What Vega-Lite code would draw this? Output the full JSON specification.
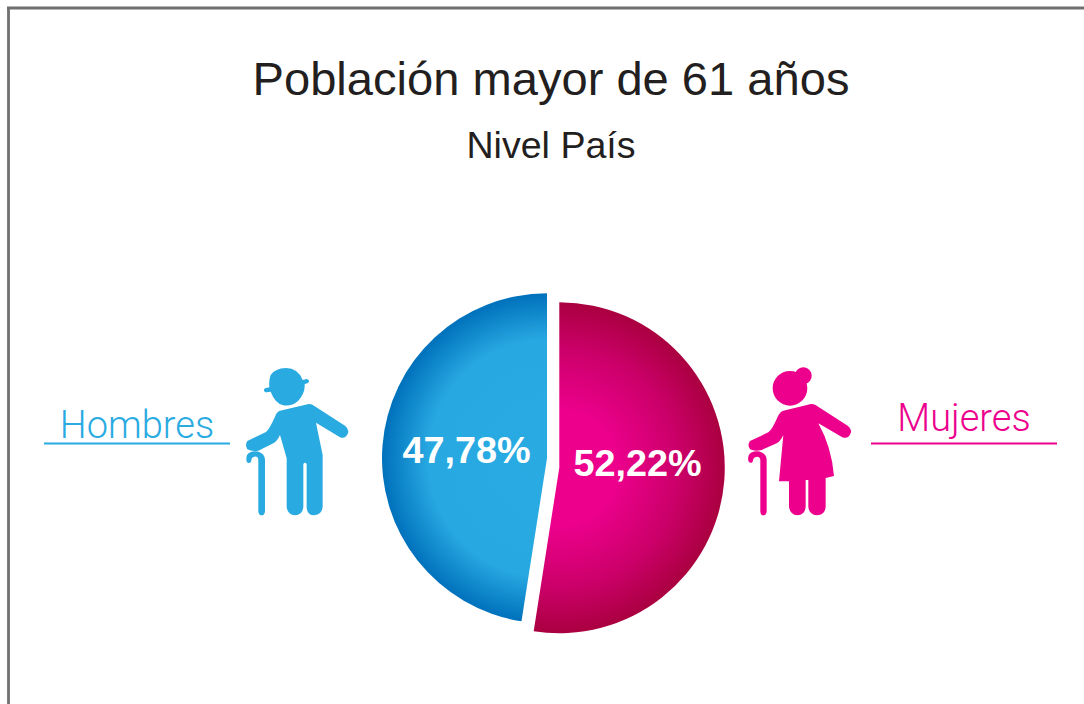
{
"$schema":"https://vega.github.io/schema/vega-lite/v6.json",
"width":1084,"height":704,"padding":0,"autosize":{"type":"none"},"background":"white",
"config":{"view":{"stroke":null},"font":"Liberation Sans"},
"title":{"text":"Población mayor de 61 años","subtitle":"Nivel País","anchor":"middle","frame":"group","orient":"top","dx":9,"offset":-167,"font":"Liberation Sans","fontSize":47.1,"fontWeight":"normal","color":"#231F20","subtitleFont":"Liberation Sans","subtitleFontSize":37.6,"subtitleColor":"#231F20","subtitlePadding":23},
"data":{"values":[{"sexo":"Hombres","valor":47.78,"etiqueta":"47,78%"},{"sexo":"Mujeres","valor":52.22,"etiqueta":"52,22%"}]},
"layer":[
{"data":{"values":[{"borde":"superior"}]},"mark":{"type":"rule","stroke":"#707070","strokeWidth":2.8},
 "encoding":{"x":{"datum":7,"type":"quantitative","axis":null,"scale":{"domain":[0,1084],"nice":false,"zero":false}},"x2":{"datum":1084},"y":{"datum":8,"type":"quantitative","axis":null,"scale":{"domain":[704,0],"nice":false,"zero":false}}}},
{"data":{"values":[{"borde":"izquierdo"}]},"mark":{"type":"rule","stroke":"#707070","strokeWidth":2.8},
 "encoding":{"x":{"datum":8.5,"type":"quantitative","axis":null,"scale":{"domain":[0,1084],"nice":false,"zero":false}},"y":{"datum":8,"type":"quantitative","axis":null,"scale":{"domain":[704,0],"nice":false,"zero":false}},"y2":{"datum":704}}},
{"transform":[{"stack":"valor","sort":[{"field":"sexo","order":"descending"}],"as":["v0","v1"]},{"filter":"datum.sexo==='Hombres'"}],
 "mark":{"type":"arc","outerRadius":165,"fill":{"gradient":"radial","x1":0.7515,"y1":0.504,"r1":0,"x2":0.7515,"y2":0.504,"r2":0.503,"stops":[{"offset":0,"color":"#29ABE2"},{"offset":0.72,"color":"#27A8E1"},{"offset":1,"color":"#0071BC"}]}},
 "encoding":{"theta":{"field":"v0","type":"quantitative","scale":{"domain":[0,52.22,100],"range":[0,3.297,6.2832]}},"theta2":{"field":"v1"},
 "x":{"datum":547,"type":"quantitative","axis":null,"scale":{"domain":[0,1084],"nice":false,"zero":false}},"y":{"datum":458.3,"type":"quantitative","axis":null,"scale":{"domain":[704,0],"nice":false,"zero":false}}}},
{"transform":[{"stack":"valor","sort":[{"field":"sexo","order":"descending"}],"as":["v0","v1"]},{"filter":"datum.sexo==='Mujeres'"}],
 "mark":{"type":"arc","outerRadius":165.5,"fill":{"gradient":"radial","x1":0.289,"y1":0.501,"r1":0,"x2":0.289,"y2":0.501,"r2":0.5,"stops":[{"offset":0,"color":"#EC008C"},{"offset":0.35,"color":"#EC008C"},{"offset":0.72,"color":"#CB0069"},{"offset":1,"color":"#AA0040"}]}},
 "encoding":{"theta":{"field":"v0","type":"quantitative","scale":{"domain":[0,52.22,100],"range":[0,3.297,6.2832]}},"theta2":{"field":"v1"},
 "x":{"datum":559.3,"type":"quantitative","axis":null,"scale":{"domain":[0,1084],"nice":false,"zero":false}},"y":{"datum":467.7,"type":"quantitative","axis":null,"scale":{"domain":[704,0],"nice":false,"zero":false}}}},
{"transform":[{"filter":"datum.sexo==='Hombres'"}],"mark":{"type":"text","color":"white","fontSize":37.8,"fontWeight":"bold","align":"center","baseline":"alphabetic"},
 "encoding":{"text":{"field":"etiqueta"},"x":{"datum":466.5,"type":"quantitative","axis":null,"scale":{"domain":[0,1084],"nice":false,"zero":false}},"y":{"datum":463,"type":"quantitative","axis":null,"scale":{"domain":[704,0],"nice":false,"zero":false}}}},
{"transform":[{"filter":"datum.sexo==='Mujeres'"}],"mark":{"type":"text","color":"white","fontSize":37.8,"fontWeight":"bold","align":"center","baseline":"alphabetic"},
 "encoding":{"text":{"field":"etiqueta"},"x":{"datum":637.5,"type":"quantitative","axis":null,"scale":{"domain":[0,1084],"nice":false,"zero":false}},"y":{"datum":476,"type":"quantitative","axis":null,"scale":{"domain":[704,0],"nice":false,"zero":false}}}},
{"transform":[{"filter":"datum.sexo==='Hombres'"}],"mark":{"type":"text","color":"#29ABE2","font":"Roboto","fontWeight":300,"fontSize":38,"align":"center","baseline":"alphabetic"},
 "encoding":{"text":{"field":"sexo"},"x":{"datum":137,"type":"quantitative","axis":null,"scale":{"domain":[0,1084],"nice":false,"zero":false}},"y":{"datum":438,"type":"quantitative","axis":null,"scale":{"domain":[704,0],"nice":false,"zero":false}}}},
{"transform":[{"filter":"datum.sexo==='Mujeres'"}],"mark":{"type":"text","color":"#EC008C","font":"Roboto","fontWeight":300,"fontSize":38,"align":"center","baseline":"alphabetic"},
 "encoding":{"text":{"field":"sexo"},"x":{"datum":964,"type":"quantitative","axis":null,"scale":{"domain":[0,1084],"nice":false,"zero":false}},"y":{"datum":431,"type":"quantitative","axis":null,"scale":{"domain":[704,0],"nice":false,"zero":false}}}},
{"transform":[{"filter":"datum.sexo==='Hombres'"}],"mark":{"type":"rule","stroke":"#29ABE2","strokeWidth":2},
 "encoding":{"x":{"datum":44,"type":"quantitative","axis":null,"scale":{"domain":[0,1084],"nice":false,"zero":false}},"x2":{"datum":230},"y":{"datum":443.5,"type":"quantitative","axis":null,"scale":{"domain":[704,0],"nice":false,"zero":false}}}},
{"transform":[{"filter":"datum.sexo==='Mujeres'"}],"mark":{"type":"rule","stroke":"#EC008C","strokeWidth":2},
 "encoding":{"x":{"datum":871,"type":"quantitative","axis":null,"scale":{"domain":[0,1084],"nice":false,"zero":false}},"x2":{"datum":1057},"y":{"datum":443.5,"type":"quantitative","axis":null,"scale":{"domain":[704,0],"nice":false,"zero":false}}}},
{"transform":[{"filter":"datum.sexo==='Hombres'"}],"mark":{"type":"point","filled":true,"fill":"#29ABE2","opacity":1,"strokeWidth":0,"size":0.4444,
 "shape":"M102 90Q103 83 112 83L118 82Q116 60 122 45Q135 25 168 24Q205 25 218 60L230 57Q238 58 237 65Q235 70 224 72Q226 100 205 122Q185 140 160 136Q135 130 122 95L110 97Q102 97 102 90ZM150 152L236 132Q245 131 252 137L345 197Q358 207 354 220Q346 238 330 232L258 188L278 285L278 440Q276 466 250 466Q230 464 230 440L230 312Q225 305 220 312L220 440Q218 466 195 466Q172 464 170 440L170 295L150 225Q142 243 130 250L85 272Q65 275 52 268Q44 255 52 243L108 216Q118 208 135 170Q140 155 150 152ZM50 305Q46 285 58 278Q75 270 92 278Q105 285 105 300L105 455Q103 466 95 466Q87 466 85 455L85 300Q84 288 73 290Q64 292 63 305Q57 313 50 305Z"},
 "encoding":{"x":{"datum":230,"type":"quantitative","axis":null,"scale":{"domain":[0,1084],"nice":false,"zero":false}},"y":{"datum":360,"type":"quantitative","axis":null,"scale":{"domain":[704,0],"nice":false,"zero":false}}}},
{"transform":[{"filter":"datum.sexo==='Mujeres'"}],"mark":{"type":"point","filled":true,"fill":"#EC008C","opacity":1,"strokeWidth":0,"size":0.4444,
 "shape":"M113 85A52 52 0 1 1 217 85A52 52 0 1 1 113 85ZM180 47A25 25 0 1 1 230 47A25 25 0 1 1 180 47ZM145 152L228 132Q238 131 245 137L338 197Q352 207 347 220Q340 238 322 232L250 190Q290 262 297 348L272 354L272 440Q270 466 246 466Q222 464 220 440L220 360L212 360L212 440Q210 466 187 466Q165 464 162 440L162 364L132 364L145 225Q137 243 125 250L80 270Q60 275 45 268Q36 255 45 243L100 217Q112 208 128 170Q135 155 145 152ZM40 303Q37 285 48 278Q65 270 82 278Q95 285 95 300L95 455Q93 466 85 466Q77 466 76 455L76 300Q74 288 63 291Q54 293 53 305Q47 313 40 303Z"},
 "encoding":{"x":{"datum":735,"type":"quantitative","axis":null,"scale":{"domain":[0,1084],"nice":false,"zero":false}},"y":{"datum":360,"type":"quantitative","axis":null,"scale":{"domain":[704,0],"nice":false,"zero":false}}}}
]
}
